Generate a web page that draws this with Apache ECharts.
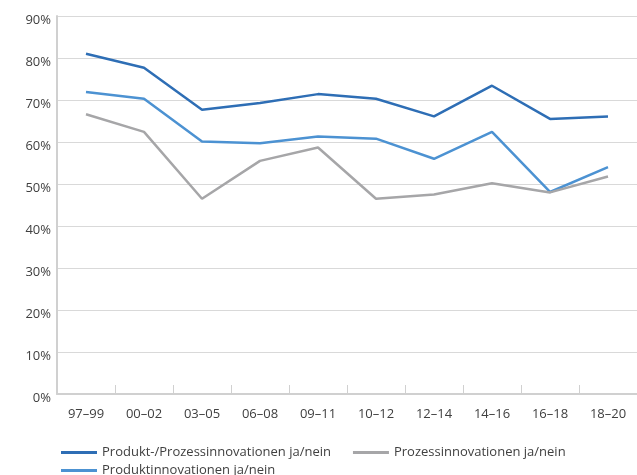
<!DOCTYPE html>
<html>
<head>
<meta charset="utf-8">
<script src="https://cdn.jsdelivr.net/npm/echarts@6/dist/echarts.min.js"></script>
<style>
html,body{margin:0;padding:0;background:#fff;}
#chart{width:637px;height:475px;}
</style>
</head>
<body>
<div id="chart"></div>
<script>
const categories = ['97–99','00–02','03–05','06–08','09–11','10–12','12–14','14–16','16–18','18–20'];
const produktProzess = [81.0, 77.7, 67.7, 69.3, 71.4, 70.3, 66.1, 73.4, 65.5, 66.1];
const produkt = [71.9, 70.3, 60.1, 59.7, 61.3, 60.8, 56.0, 62.4, 48.1, 54.0];
const prozess = [66.6, 62.4, 46.5, 55.5, 58.7, 46.5, 47.5, 50.2, 48.0, 51.8];
const seriesNames = ['Produkt-/Prozessinnovationen ja/nein', 'Produktinnovationen ja/nein', 'Prozessinnovationen ja/nein'];
const yTicks = {min: 0, max: 90, interval: 10};

const font = 'Open Sans';
const colors = ['#2e6eb5', '#4c92d2', '#a6a6a8'];
const chart = echarts.init(document.getElementById('chart'), null, {renderer: 'canvas'});
const mk = (name, data, color) => ({
  name, type: 'line', data, symbol: 'none', smooth: false,
  lineStyle: {color, width: 2.5}, itemStyle: {color}
});
const legendBase = {
  orient: 'horizontal', itemWidth: 36, itemHeight: 3, icon: 'rect',
  textStyle: {color: '#404040', fontSize: 13, fontFamily: font}
};
chart.setOption({
  animation: false,
  textStyle: {fontFamily: font},
  color: colors,
  grid: {left: 57, right: -2, top: 16, bottom: 81, containLabel: false},
  xAxis: {
    type: 'category', data: categories, boundaryGap: true,
    axisLine: {lineStyle: {color: '#d0d0d0', width: 2}},
    axisTick: {show: true, inside: true, length: 9, lineStyle: {color: '#d0d0d0', width: 1}},
    axisLabel: {color: '#404040', fontSize: 13, fontFamily: font, margin: 14},
    splitLine: {show: false}
  },
  yAxis: {
    type: 'value', min: yTicks.min, max: yTicks.max, interval: yTicks.interval,
    axisLine: {show: true, lineStyle: {color: '#d0d0d0', width: 2}},
    axisTick: {show: false},
    axisLabel: {color: '#404040', fontSize: 13, fontFamily: font, margin: 6,
      formatter: v => v + '%', verticalAlign: 'top', lineHeight: 8},
    splitLine: {lineStyle: {color: '#d9d9d9', width: 1}}
  },
  legend: [
    Object.assign({}, legendBase, {left: 56, top: 441, itemGap: 22,
      data: [{name: seriesNames[0]}, {name: seriesNames[2]}]}),
    Object.assign({}, legendBase, {left: 56, top: 459, itemGap: 22,
      data: [{name: seriesNames[1]}]})
  ],
  series: [
    mk(seriesNames[0], produktProzess, colors[0]),
    mk(seriesNames[1], produkt, colors[1]),
    mk(seriesNames[2], prozess, colors[2])
  ]
});
</script>
</body>
</html>
